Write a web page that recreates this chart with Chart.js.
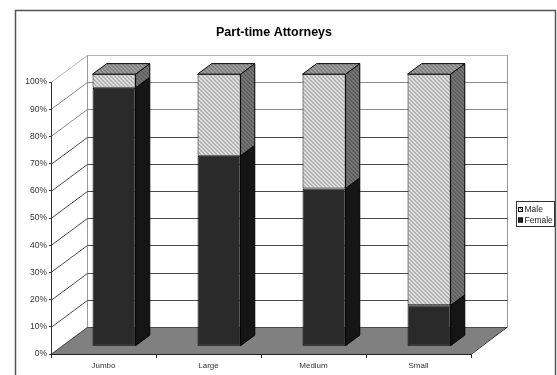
<!DOCTYPE html>
<html>
<head>
<meta charset="utf-8">
<title>Part-time Attorneys</title>
<script src="https://cdn.jsdelivr.net/npm/chart.js@4.4.0/dist/chart.umd.min.js"></script>
<style>
  html, body { margin: 0; padding: 0; background: #fff; }
</style>
</head>
<body>
<canvas id="chart" width="557" height="375"></canvas>
<script>
// Share of part-time attorneys by firm size (percent)
const firmSizes = ['Jumbo', 'Large', 'Medium', 'Small'];
const femaleShare = [95, 70, 58, 15];
const maleShare = [5, 30, 42, 85];
const yTickLabels = ['0%', '10%', '20%', '30%', '40%', '50%', '60%', '70%', '80%', '90%', '100%'];

const FONT = '"Liberation Sans", Arial, sans-serif';
Chart.defaults.font.family = FONT;

// Oblique depth of the plot box and where the bars sit inside it
const DEPTH_X = 36.4;
const DEPTH_Y = 27;
const BAR_FRONT = 0.29;
const BAR_DEPTH = 0.39;

const canvas = document.getElementById('chart');
const ctx = canvas.getContext('2d');

// Small diagonal hatch tiles for the "Male" series faces
function hatch(bg, fg) {
    const tile = document.createElement('canvas');
    tile.width = tile.height = 4;
    const g = tile.getContext('2d');
    g.fillStyle = bg;
    g.fillRect(0, 0, 4, 4);
    g.fillStyle = fg;
    for (let i = 0; i < 4; i++) g.fillRect(i, i, 1, 1);
    return ctx.createPattern(tile, 'repeat');
}
const maleFront = hatch('#e6e6e6', '#707070');
const maleSide = hatch('#7a7a7a', '#3c3c3c');
const maleTop = hatch('#a4a4a4', '#555555');

function poly(c, pts) {
    c.beginPath();
    c.moveTo(pts[0][0], pts[0][1]);
    for (let i = 1; i < pts.length; i++) c.lineTo(pts[i][0], pts[i][1]);
    c.closePath();
}

// Walls, floor, depth faces, title and legend box
const box3d = {
    id: 'box3d',
    beforeDraw(chart) {
        const { ctx: c, chartArea: a, scales: { y } } = chart;
        c.save();
        c.fillStyle = '#fff';
        c.fillRect(0, 0, chart.width, chart.height);

        c.strokeStyle = '#555';
        c.lineWidth = 1.5;
        c.strokeRect(15.5, 10.5, 540, 400);

        const backX = a.left + DEPTH_X;
        const backRight = a.right + DEPTH_X;
        const floorBack = a.bottom - DEPTH_Y;
        const wallTop = y.getPixelForValue(100) - DEPTH_Y;

        // floor
        c.fillStyle = '#808080';
        poly(c, [[a.left, a.bottom], [a.right, a.bottom], [backRight, floorBack], [backX, floorBack]]);
        c.fill();

        // back wall edges
        c.lineWidth = 1;
        c.strokeStyle = '#9a9a9a';
        c.beginPath();
        c.moveTo(Math.round(backX) + 0.5, wallTop);
        c.lineTo(Math.round(backX) + 0.5, floorBack);
        c.moveTo(Math.round(backRight) + 0.5, wallTop);
        c.lineTo(Math.round(backRight) + 0.5, floorBack);
        c.stroke();

        // gridlines on the side wall and back wall
        y.ticks.forEach(t => {
            const py = Math.round(y.getPixelForValue(t.value)) + 0.5;
            c.strokeStyle = t.value === 100 ? '#b4b4b4' : (t.value >= 80 ? '#8a8a8a' : '#4a4a4a');
            c.beginPath();
            c.moveTo(a.left, py);
            c.lineTo(backX, py - DEPTH_Y);
            c.lineTo(backRight, py - DEPTH_Y);
            c.stroke();
        });

        // right edge of the floor
        c.strokeStyle = '#333';
        c.beginPath();
        c.moveTo(a.right, a.bottom + 0.5);
        c.lineTo(backRight, floorBack);
        c.stroke();
        c.restore();
    },
    beforeDatasetsDraw(chart) {
        chart.ctx.save();
        chart.ctx.translate(DEPTH_X * BAR_FRONT, -DEPTH_Y * BAR_FRONT);
    },
    afterDatasetsDraw(chart) {
        const c = chart.ctx;
        const sx = DEPTH_X * BAR_DEPTH;
        const sy = DEPTH_Y * BAR_DEPTH;
        const last = chart.data.datasets.length - 1;
        c.lineWidth = 1;
        c.strokeStyle = '#000';
        c.lineJoin = 'miter';
        chart.data.datasets.forEach((ds, di) => {
            chart.getDatasetMeta(di).data.forEach(bar => {
                const { x, y, base, width } = bar.getProps(['x', 'y', 'base', 'width'], true);
                const l = x - width / 2;
                const r = x + width / 2;
                c.fillStyle = ds.sideColor;
                poly(c, [[r, y], [r + sx, y - sy], [r + sx, base - sy], [r, base]]);
                c.fill();
                c.stroke();
                if (di === last) {
                    c.fillStyle = ds.topColor;
                    poly(c, [[l, y], [l + sx, y - sy], [r + sx, y - sy], [r, y]]);
                    c.fill();
                    c.stroke();
                }
            });
        });
        c.restore();
    },
    afterDraw(chart) {
        const c = chart.ctx;
        c.save();
        c.fillStyle = '#000';
        c.font = 'bold 12.5px ' + FONT;
        c.textAlign = 'center';
        c.textBaseline = 'middle';
        c.fillText('Part-time Attorneys', 274, 33);

        // legend, top entry is the upper series
        c.fillStyle = '#fff';
        c.fillRect(516.5, 201.5, 38, 25);
        c.strokeStyle = '#333';
        c.lineWidth = 1;
        c.strokeRect(516.5, 201.5, 38, 25);
        c.font = '8.5px ' + FONT;
        c.textAlign = 'left';
        const entries = chart.data.datasets.slice().reverse();
        entries.forEach((ds, i) => {
            const cy = 209.5 + i * 10.5;
            c.fillStyle = ds.backgroundColor;
            c.fillRect(518, cy - 2.5, 5, 5);
            c.strokeStyle = '#000';
            c.strokeRect(518.5, cy - 2, 4, 4);
            c.fillStyle = '#222';
            c.fillText(ds.label, 524.5, cy + 0.5);
        });
        c.restore();
    }
};

new Chart(ctx, {
    type: 'bar',
    data: {
        labels: firmSizes,
        datasets: [
            { label: 'Female', data: femaleShare, backgroundColor: '#2a2a2a', sideColor: '#151515', topColor: '#333' },
            { label: 'Male', data: maleShare, backgroundColor: maleFront, sideColor: maleSide, topColor: maleTop }
        ]
    },
    options: {
        responsive: false,
        animation: false,
        events: [],
        layout: { padding: { top: 82, right: 86, left: 0, bottom: 0 } },
        plugins: {
            legend: { display: false },
            title: { display: false },
            tooltip: { enabled: false }
        },
        datasets: {
            bar: {
                categoryPercentage: 1,
                barPercentage: 0.41,
                borderWidth: 1,
                borderColor: '#000',
                borderSkipped: false,
                clip: false
            }
        },
        scales: {
            x: {
                stacked: true,
                grid: { display: true, drawOnChartArea: false, offset: true, tickLength: 4, tickColor: '#222' },
                border: { color: '#222' },
                ticks: { color: '#333', font: { size: 8 }, padding: 3, maxRotation: 0 },
                afterFit(scale) { scale.height = 21; }
            },
            y: {
                stacked: true,
                min: 0,
                max: 100,
                grid: { display: true, drawOnChartArea: false, tickLength: 2, tickColor: '#333' },
                border: { color: '#333' },
                ticks: {
                    stepSize: 10,
                    color: '#333',
                    font: { size: 8.5 },
                    padding: 2,
                    callback: (v, i) => yTickLabels[i]
                },
                afterFit(scale) { scale.width = 51; }
            }
        }
    },
    plugins: [box3d]
});
</script>
</body>
</html>
